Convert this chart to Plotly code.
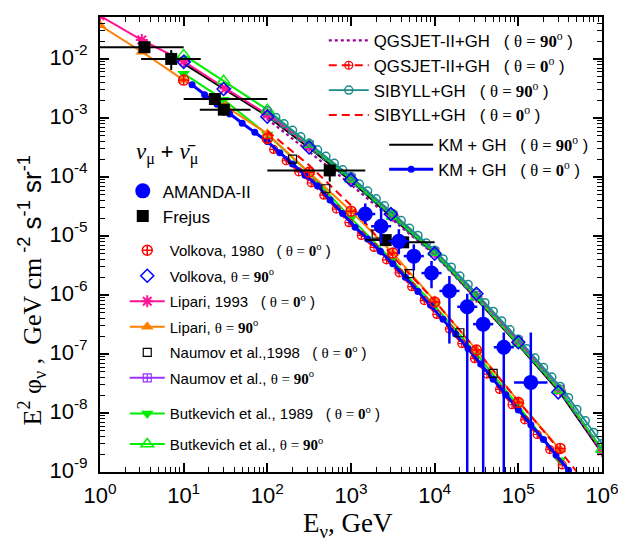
import plotly.graph_objects as go

SERIF = "Liberation Serif"
SANS = "Liberation Sans"

# ---------------- data ----------------
# AMANDA-II unfolded nu_mu flux
amanda_E = [1480, 2290, 3730, 5630, 9170, 15000, 24500, 38000, 67000, 141000]
amanda_F = [2.35e-5, 1.46e-5, 8.1e-6, 4.55e-6, 2.35e-6, 1.17e-6, 6.3e-7, 3.2e-7, 1.3e-7, 3.3e-8]
amanda_F_hi = [3.55e-5, 3.0e-5, 1.3e-5, 7.2e-6, 3.76e-6, 2.1e-6, 1.05e-6, 6.6e-7, 2.3e-7, 2.3e-7]
amanda_F_lo = [1.6e-5, 7.5e-6, 4.9e-6, 2.6e-6, 1.3e-6, 1.5e-7, 1e-12, 1e-12, 1e-12, 1e-12]
amanda_E_lo = [1120, 1740, 2830, 4270, 6960, 11400, 18600, 28800, 50900, 89000]
amanda_E_hi = [1950, 3020, 4920, 7420, 12100, 19800, 32300, 50100, 88300, 223000]

# Frejus
frejus_E = [3.4, 7.1, 23.6, 30.2, 557, 2600, 4200]
frejus_F = [1.58e-2, 1.0e-2, 2.09e-3, 1.38e-3, 1.29e-4, 8.5e-6, 7.8e-6]
frejus_E_lo = [0.9, 3.1, 10, 15.6, 100, 1480, 2500]
frejus_E_hi = [10, 16, 100, 63, 1480, 4500, 10000]
frejus_F_lo = [1.4e-2, 6.5e-3, 1.8e-3, 1.1e-3, 8.3e-5, 7.5e-6, 6.8e-6]
frejus_F_hi = [1.78e-2, 1.41e-2, 2.4e-3, 1.7e-3, 1.6e-4, 9.5e-6, 8.8e-6]

# KM + GH, theta = 0 (blue dots)
km0_E = [12.6, 17.8, 25.1, 35.5, 50.1, 70.8, 100, 141, 200, 282, 398, 562, 794, 1120, 1580,
         2240, 3160, 4470, 6310, 8910, 12600, 17800, 25100, 35500, 50100, 70800, 100000,
         141000, 200000, 282000, 398000]
km0_F = [3.63e-3, 2.48e-3, 1.70e-3, 1.17e-3, 8.13e-4, 5.69e-4, 3.98e-4, 2.57e-4, 1.66e-4,
         1.07e-4, 7.08e-5, 4.07e-5, 2.40e-5, 1.41e-5, 8.91e-6, 5.50e-6, 3.39e-6, 2.00e-6,
         1.15e-6, 6.76e-7, 3.89e-7, 2.19e-7, 1.23e-7, 6.76e-8, 3.72e-8, 2.04e-8, 1.12e-8,
         6.31e-9, 3.55e-9, 1.95e-9, 1.07e-9]

# KM + GH, theta = 90 (black line)
km90_E = [10, 31.6, 100, 316, 1000, 3160, 10000, 31600, 100000, 316000, 1000000]
km90_F = [8.32e-3, 3.02e-3, 1.07e-3, 3.09e-4, 8.51e-5, 2.00e-5, 5.01e-6, 8.51e-7, 1.41e-7,
          2.19e-8, 2.09e-9]

# QGSJET-II + GH, theta = 0 (red dashed, circled plus)
qgs0_E = [119, 168, 237, 335, 473, 668, 944, 1330, 1880, 2660, 3760, 5310, 7500, 10600,
          15000, 21100, 29900, 42200, 59600, 84100, 119000, 168000, 237000, 335000]
qgs0_F = [2.92e-4, 1.88e-4, 1.22e-4, 7.94e-5, 4.90e-5, 2.85e-5, 1.68e-5, 1.02e-5, 6.38e-6,
          3.94e-6, 2.37e-6, 1.38e-6, 8.04e-7, 4.68e-7, 2.66e-7, 1.50e-7, 8.32e-8, 4.57e-8,
          2.51e-8, 1.38e-8, 7.67e-9, 4.32e-9, 2.40e-9, 1.32e-9]

# QGSJET-II + GH, theta = 90 (purple dotted)
qgs90_E = [100, 316, 1000, 3160, 10000, 31600, 100000, 316000, 1000000]
qgs90_F = [9.55e-4, 2.63e-4, 7.41e-5, 1.86e-5, 4.79e-6, 8.51e-7, 1.45e-7, 2.29e-8, 2.09e-9]

# SIBYLL + GH, theta = 90 (teal open circles)
sib90_E = [100, 126, 158, 200, 251, 316, 398, 501, 631, 794, 1000, 1260, 1580, 2000, 2510,
           3160, 3980, 5010, 6310, 7940, 10000, 12600, 15800, 20000, 25100, 31600, 39800,
           50100, 63100, 79400, 100000, 126000, 158000, 200000, 251000, 316000, 398000,
           501000, 631000, 794000, 1000000]
sib90_F = [1.32e-3, 1.02e-3, 7.94e-4, 6.17e-4, 4.79e-4, 3.72e-4, 2.88e-4, 2.24e-4, 1.70e-4,
           1.32e-4, 1.02e-4, 7.59e-5, 5.75e-5, 4.27e-5, 3.24e-5, 2.40e-5, 1.82e-5, 1.35e-5,
           1.02e-5, 7.59e-6, 5.75e-6, 4.07e-6, 2.95e-6, 2.09e-6, 1.51e-6, 1.07e-6, 7.41e-7,
           5.25e-7, 3.63e-7, 2.57e-7, 1.78e-7, 1.23e-7, 8.51e-8, 5.89e-8, 4.07e-8, 2.82e-8,
           1.82e-8, 1.15e-8, 7.41e-9, 4.68e-9, 3.02e-9]

# SIBYLL + GH, theta = 0 (red dashed)
sib0_E = [100, 316, 1000, 3160, 10000, 31600, 100000, 316000, 501000]
sib0_F = [6.03e-4, 1.58e-4, 3.31e-5, 4.47e-6, 7.94e-7, 1.17e-7, 1.58e-8, 2.29e-9, 1.0e-9]

# Volkova 1980
volk0_E = [10, 30, 100, 316, 1000, 3160, 10000, 31600, 100000, 316000]
volk0_F = [4.37e-3, 1.38e-3, 4.47e-4, 1.20e-4, 2.63e-5, 5.13e-6, 7.59e-7, 1.17e-7, 1.51e-8, 2.51e-9]
volk90_E = [10, 30, 100, 316, 1000, 3000, 10000, 31600, 100000, 300000]
volk90_F = [8.91e-3, 3.09e-3, 1.05e-3, 3.16e-4, 8.91e-5, 2.34e-5, 5.01e-6, 1.05e-6, 1.58e-7, 2.24e-8]

# Lipari 1993
lip0_E = [1, 3.16, 10, 31.6, 100, 316, 1000, 3160, 10000, 31600, 100000, 316000, 1000000]
lip0_F = [5.37e-2, 2.09e-2, 9.12e-3, 3.16e-3, 1.15e-3, 3.39e-4, 9.33e-5, 2.19e-5, 5.25e-6,
          9.33e-7, 1.58e-7, 2.40e-8, 2.29e-9]
lip90_E = [1, 3.16, 10, 31.6, 100, 316, 1000, 3160, 10000, 31600, 100000, 316000]
lip90_F = [3.72e-2, 1.32e-2, 4.37e-3, 1.58e-3, 5.37e-4, 1.20e-4, 2.63e-5, 5.13e-6, 7.94e-7,
           1.17e-7, 1.58e-8, 2.40e-9]

# Naumov et al. 1998
naum0_E = [200, 500, 2000, 5000, 20000, 50000]
naum0_F = [2.00e-4, 6.31e-5, 1.07e-5, 2.29e-6, 2.29e-7, 4.68e-8]
naum90_E = [100, 316, 1000, 3160, 10000, 31600, 100000, 316000, 1000000]
naum90_F = [1.20e-3, 3.47e-4, 9.55e-5, 2.24e-5, 5.37e-6, 9.77e-7, 1.66e-7, 2.51e-8, 2.40e-9]

# Butkevich et al. 1989
butk0_E = [10, 30, 100, 316, 1000, 3160, 10000, 31600, 100000, 316000]
butk0_F = [5.62e-3, 2.04e-3, 5.25e-4, 1.17e-4, 2.00e-5, 3.80e-6, 6.61e-7, 1.00e-7, 1.32e-8, 1.58e-9]
butk90_E = [10, 30, 100, 316, 1000, 3160, 10000, 31600, 100000, 316000, 1000000]
butk90_F = [1.17e-2, 4.27e-3, 1.38e-3, 3.55e-4, 9.12e-5, 2.14e-5, 5.25e-6, 9.12e-7, 1.51e-7,
            2.40e-8, 2.40e-9]

# axis ticks
x_tick_exp = [0, 1, 2, 3, 4, 5, 6]
y_tick_exp = [-9, -8, -7, -6, -5, -4, -3, -2]


# ---------------- figure ----------------
def th(angle):
    return (f"<span style='font-family:{SERIF}'>\u03b8 = <b>{angle}</b>"
            f"<sup>o</sup></span>")


fig = go.Figure()


def add(x, y, name, legend, rank, mode="lines", line=None, marker=None, **kw):
    fig.add_trace(go.Scatter(
        x=x, y=y, name=name, mode=mode, line=line or {}, marker=marker or {},
        legend=legend, legendrank=rank, legendgroup=name, **kw))


# upper bundle (theta = 90)
add(km90_E, km90_F, f"KM + GH   ( {th(90)} )", "legend2", 1,
    line=dict(color="black", width=2))
add(qgs90_E, qgs90_F, f"QGSJET-II+GH   ( {th(90)} )", "legend", 1,
    line=dict(color="#990099", width=2.2, dash="dot"))
add(naum90_E, naum90_F, f"Naumov et al., {th(90)}", "legend4", 6, mode="lines+markers",
    line=dict(color="#9933ff", width=2),
    marker=dict(symbol="square-cross-open", size=8, color="#9933ff", line=dict(width=1.2)))
add(lip0_E, lip0_F, f"Lipari, 1993   ( {th(0)} )", "legend4", 3, mode="lines+markers",
    line=dict(color="#ff1493", width=2),
    marker=dict(symbol="asterisk-open", size=10, color="#ff1493", line=dict(width=2, color="#ff1493")))
add(butk90_E, butk90_F, f"Butkevich et al., {th(90)}", "legend5", 2, mode="lines+markers",
    line=dict(color="#00ee00", width=2),
    marker=dict(symbol="triangle-up-open", size=11, color="#00ee00", line=dict(width=1.5)))
add(sib90_E, sib90_F, f"SIBYLL+GH   ( {th(90)} )", "legend", 3, mode="lines+markers",
    line=dict(color="#1a8c8c", width=1.8),
    marker=dict(symbol="circle-open", size=8, color="#1a8c8c", line=dict(width=1.5)))

# lower bundle (theta = 0)
add(butk0_E, butk0_F, f"Butkevich et al., 1989   ( {th(0)} )", "legend5", 1,
    mode="lines+markers", line=dict(color="#00ee00", width=2),
    marker=dict(symbol="triangle-down", size=11, color="#00ee00"))
add(lip90_E, lip90_F, f"Lipari, {th(90)}", "legend4", 4, mode="lines+markers",
    line=dict(color="#ff8000", width=2),
    marker=dict(symbol="triangle-up", size=11, color="#ff8000"))
add(sib0_E, sib0_F, f"SIBYLL+GH   ( {th(0)} )", "legend", 4,
    line=dict(color="red", width=2, dash="8px,5px"))
add(qgs0_E, qgs0_F, f"QGSJET-II+GH   ( {th(0)} )", "legend", 2, mode="lines+markers",
    line=dict(color="red", width=2, dash="8px,5px"),
    marker=dict(symbol="circle-cross-open", size=8, color="red", line=dict(width=1.2)))
add(km0_E, km0_F, f"KM + GH   ( {th(0)} )", "legend2", 2, mode="lines+markers",
    line=dict(color="blue", width=3),
    marker=dict(symbol="circle", size=7, color="blue"))

# point sets
add(volk0_E, volk0_F, f"Volkova, 1980   ( {th(0)} )", "legend4", 1, mode="markers",
    marker=dict(symbol="circle-cross-open", size=10, color="red", line=dict(width=1.5)))
add(volk90_E, volk90_F, f"Volkova, {th(90)}", "legend4", 2, mode="markers",
    marker=dict(symbol="diamond-open", size=10, color="blue", line=dict(width=1.5)))
add(naum0_E, naum0_F, f"Naumov et al.,1998   ( {th(0)} )", "legend4", 5, mode="markers",
    marker=dict(symbol="square-open", size=8, color="black", line=dict(width=1.2)))

fig.add_trace(go.Scatter(
    x=frejus_E, y=frejus_F, name="Frejus", mode="markers", legend="legend3", legendrank=2,
    legendgroup="Frejus",
    marker=dict(symbol="square", size=12, color="black"),
    error_x=dict(type="data", symmetric=False,
                 array=[h - e for h, e in zip(frejus_E_hi, frejus_E)],
                 arrayminus=[e - l for e, l in zip(frejus_E, frejus_E_lo)],
                 color="black", thickness=2, width=0),
    error_y=dict(type="data", symmetric=False,
                 array=[h - f for h, f in zip(frejus_F_hi, frejus_F)],
                 arrayminus=[f - l for f, l in zip(frejus_F, frejus_F_lo)],
                 color="black", thickness=2, width=0)))

fig.add_trace(go.Scatter(
    x=amanda_E, y=amanda_F, name="AMANDA-II", mode="markers", legend="legend3", legendrank=1,
    legendgroup="AMANDA",
    marker=dict(symbol="circle", size=15, color="blue"),
    error_x=dict(type="data", symmetric=False,
                 array=[h - e for h, e in zip(amanda_E_hi, amanda_E)],
                 arrayminus=[e - l for e, l in zip(amanda_E, amanda_E_lo)],
                 color="blue", thickness=2.5, width=0),
    error_y=dict(type="data", symmetric=False,
                 array=[h - f for h, f in zip(amanda_F_hi, amanda_F)],
                 arrayminus=[f - l for f, l in zip(amanda_F, amanda_F_lo)],
                 color="blue", thickness=2.5, width=0)))

# ---------------- layout ----------------
# The page body has an 8px margin, so the figure is shrunk and its margins
# reduced so that the plot area sits at page pixels x 100..607, y 15..472.
W, H = 618, 535
L, R, T, B = 92, 19, 7, 71
PAGE_X0, PAGE_Y1 = 100, 472
PW, PH = W - L - R, H - T - B


def px(x):
    return (x - PAGE_X0) / PW


def py(y):
    return (PAGE_Y1 - y) / PH


leg_common = dict(bgcolor="rgba(0,0,0,0)", borderwidth=0, xanchor="left", yanchor="top",
                  tracegroupgap=0, itemclick=False, itemdoubleclick=False)

axis_common = dict(type="log", showline=True, linecolor="black", linewidth=2, mirror="allticks",
                   ticks="inside", ticklen=9, tickwidth=1.5, tickcolor="black",
                   showgrid=False, zeroline=False,
                   tickfont=dict(family=SANS, size=22, color="black"))

x_minor = [m * 10 ** d for d in range(0, 6) for m in range(2, 10)]
y_minor = [m * 10.0 ** d for d in range(-9, -1) for m in range(2, 10)]

fig.update_layout(
    width=W, height=H, margin=dict(l=L, r=R, t=T, b=B),
    paper_bgcolor="white", plot_bgcolor="white",
    xaxis=dict(range=[0, 6], tickvals=[10.0 ** e for e in x_tick_exp],
               ticktext=[f"10<sup>{e}</sup>" for e in x_tick_exp],
               minor=dict(ticks="inside", ticklen=5, tickwidth=1.2, tickcolor="black",
                          tickvals=x_minor),
               ticklabelstandoff=3, **axis_common),
    yaxis=dict(range=[-9, -1.29], tickvals=[10.0 ** e for e in y_tick_exp],
               ticktext=[f"10<sup>{e}</sup>" for e in y_tick_exp],
               minor=dict(ticks="inside", ticklen=5, tickwidth=1.2, tickcolor="black",
                          tickvals=y_minor),
               ticklabelstandoff=6, ticklabelshift=-2, **axis_common),
    legend=dict(x=px(326), y=py(21), font=dict(family=SANS, size=16.8, color="black"),
                itemwidth=40, **leg_common),
    legend2=dict(x=px(387), y=py(126), font=dict(family=SANS, size=16.5, color="black"),
                 itemwidth=44, **leg_common),
    legend3=dict(x=px(123), y=py(172), font=dict(family=SANS, size=17, color="black"),
                 **leg_common),
    legend4=dict(x=px(125), y=py(233), font=dict(family=SANS, size=15, color="black"),
                 itemwidth=35, **{**leg_common, "tracegroupgap": 3}),
    legend5=dict(x=px(125), y=py(397), font=dict(family=SANS, size=15, color="black"),
                 itemwidth=35, **{**leg_common, "tracegroupgap": 8}),
    annotations=[
        dict(text="E<sub>\u03bd</sub>, GeV", x=px(350), y=py(525), xref="paper", yref="paper",
             showarrow=False, font=dict(family=SERIF, size=27, color="black"),
             xanchor="center", yanchor="middle"),
        dict(text=("E<sup>2</sup> \u03c6<sub>\u03bd</sub> ,  GeV cm"
                   f"<span style='font-family:{SANS}'><sup> -2</sup> s<sup>-1</sup> "
                   "sr<sup>-1</sup></span>"),
             x=px(31), y=py(290), xref="paper", yref="paper", textangle=-90,
             showarrow=False, font=dict(family=SERIF, size=26, color="black"),
             xanchor="center", yanchor="middle"),
        dict(text=("<i>\u03bd</i><sub>\u03bc</sub> <b>+</b> <i>\u03bd\u0304</i>"
                   "<sub>\u03bc</sub>"),
             x=px(168), y=py(152), xref="paper", yref="paper", showarrow=False,
             font=dict(family=SERIF, size=23, color="black"),
             xanchor="center", yanchor="middle"),
    ],
)

fig.write_html("out.html")
